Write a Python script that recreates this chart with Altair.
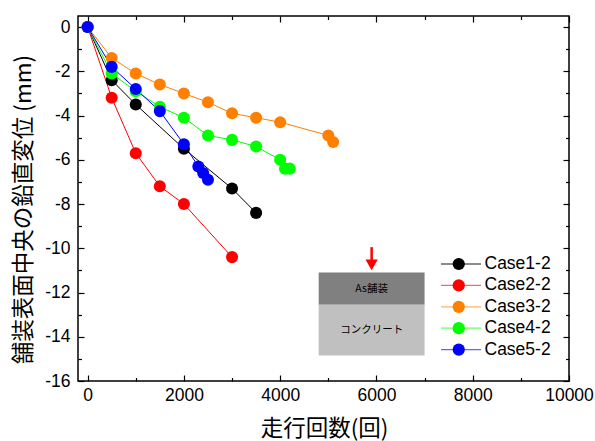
import altair as alt
import pandas as pd

# ---- data ----
cases = ["Case1-2", "Case2-2", "Case3-2", "Case4-2", "Case5-2"]
colors = ["#000000", "#FF0000", "#FF8000", "#00FF00", "#0000FF"]

case1_x = [0, 500, 1000, 2000, 3000, 3500]
case1_y = [0, -2.4, -3.5, -5.5, -7.3, -8.4]
case2_x = [0, 500, 1000, 1500, 2000, 3000]
case2_y = [0, -3.2, -5.7, -7.2, -8.0, -10.4]
case3_x = [0, 500, 1000, 1500, 2000, 2500, 3000, 3500, 4000, 5000, 5100]
case3_y = [0, -1.4, -2.1, -2.6, -3.0, -3.4, -3.9, -4.1, -4.3, -4.9, -5.2]
case4_x = [0, 500, 1000, 1500, 2000, 2500, 3000, 3500, 4000, 4100, 4200]
case4_y = [0, -2.1, -2.9, -3.6, -4.1, -4.9, -5.1, -5.4, -6.0, -6.4, -6.4]
case5_x = [0, 500, 1000, 1500, 2000, 2300, 2400, 2500]
case5_y = [0, -1.8, -2.8, -3.8, -5.3, -6.3, -6.6, -6.9]

x_major = [0, 2000, 4000, 6000, 8000, 10000]
x_minor = [1000, 3000, 5000, 7000, 9000]
y_major = [0, -2, -4, -6, -8, -10, -12, -14, -16]
y_minor = [-1, -3, -5, -7, -9, -11, -13, -15]

# inset sketch (pavement layers) in data units
layer_names = ["As舗装", "コンクリート"]
layer_top = [-11.1, -12.55]
layer_bottom = [-12.55, -14.85]
layer_colors = ["#808080", "#C0C0C0"]
inset_x0, inset_x1 = 4800, 7000
arrow_x = 5900
arrow_top, arrow_head = -9.95, -10.75

# ---- tables ----
codes = ["line%d" % (j + 1) for j in range(len(cases))]  # keys for the line-segment legend
rows = []
for k, (name, xs_, ys_) in enumerate(zip(cases, [case1_x, case2_x, case3_x, case4_x, case5_x],
                                          [case1_y, case2_y, case3_y, case4_y, case5_y])):
    for i, (a, b) in enumerate(zip(xs_, ys_)):
        rows.append({"case": name, "code": codes[k], "n": a, "d": b, "i": i, "k": k})
df = pd.DataFrame(rows)

inset = pd.DataFrame({
    "name": layer_names,
    "x0": [inset_x0] * 2, "x1": [inset_x1] * 2,
    "top": layer_top, "bottom": layer_bottom,
    "mid": [(a + b) / 2 for a, b in zip(layer_top, layer_bottom)],
    "xm": [(inset_x0 + inset_x1) / 2] * 2,
    "col": layer_colors,
})
arrow = pd.DataFrame({"x": [arrow_x], "y0": [arrow_top], "y1": [arrow_head]})

W, H = 491, 365
LAT = "Liberation Sans"
CJK = "Noto Sans CJK JP"

xs = alt.Scale(domain=[-200, 10000], nice=False, zero=False)
ys = alt.Scale(domain=[-16, 0.5], nice=False, zero=False)
cscale = alt.Scale(domain=cases, range=colors)
lscale = alt.Scale(domain=codes, range=colors)

# legend of the line segments (no labels) ...
legend_lines = alt.Legend(
    title=None, orient="none", legendX=362, legendY=238, zindex=1,
    symbolType="stroke", symbolSize=1600, symbolStrokeWidth=1.3, symbolOpacity=0.6,
    clipHeight=20, rowPadding=1.4, labelExpr="''",
    labelFont=LAT, labelFontSize=17.5, labelOffset=4,
)
# ... overlaid with the legend of the markers (visible labels)
legend_pts = alt.Legend(
    title=None, orient="none", legendX=372, legendY=238, zindex=2,
    symbolType="circle", symbolSize=150, symbolStrokeWidth=0, symbolOpacity=1,
    clipHeight=20, rowPadding=1.4,
    labelFont=LAT, labelFontSize=17.5, labelColor="black", labelOffset=17,
)

axis_x = alt.Axis(values=x_major, format="d", labelFont=LAT, labelFontSize=17.5,
                  labelColor="black", ticks=False, domain=False, grid=False, labelPadding=5,
                  title="走行回数(回)", titleFont=CJK, titleFontSize=22.5, titleFontWeight="normal",
                  titleColor="black", titleX=246, titleY=47, titleBaseline="middle",
                  titleAlign="center", labelFlush=False)
axis_y = alt.Axis(values=y_major, labelExpr="toString(datum.value)", labelFont=LAT,
                  labelFontSize=17.5, labelColor="black", ticks=False, domain=False, grid=False,
                  labelPadding=8, title="舗装表面中央の鉛直変位 (mm)", titleFont=CJK,
                  titleFontSize=22.5, titleFontWeight="normal", titleColor="black",
                  titleX=-55, titleY=193, titleAngle=-90, titleBaseline="middle",
                  titleAlign="center")

lines = alt.Chart(df).mark_line(strokeWidth=1).encode(
    x=alt.X("n:Q", scale=xs, axis=axis_x),
    y=alt.Y("d:Q", scale=ys, axis=axis_y),
    stroke=alt.Stroke("code:N", scale=lscale, legend=legend_lines),
    order=alt.Order("i:Q"),
)

points = alt.Chart(df).mark_circle(size=145, opacity=1).encode(
    x=alt.X("n:Q", scale=xs, axis=None),
    y=alt.Y("d:Q", scale=ys, axis=None),
    color=alt.Color("case:N", scale=cscale, legend=legend_pts),
    order=alt.Order("k:Q"),
)

rects = alt.Chart(inset).mark_rect().encode(
    x=alt.X("x0:Q", scale=xs, axis=None), x2="x1:Q",
    y=alt.Y("top:Q", scale=ys, axis=None), y2="bottom:Q",
    color=alt.Color("col:N", scale=None, legend=None),
)
texts = alt.Chart(inset).mark_text(font=CJK, fontSize=10.5, color="black").encode(
    x=alt.X("xm:Q", scale=xs, axis=None),
    y=alt.Y("mid:Q", scale=ys, axis=None),
    text="name:N",
)
arrow_line = alt.Chart(arrow).mark_rule(color="#FF0000", strokeWidth=2.5).encode(
    x=alt.X("x:Q", scale=xs, axis=None),
    y=alt.Y("y0:Q", scale=ys, axis=None), y2="y1:Q",
)
arrow_head_m = alt.Chart(arrow).mark_point(shape="triangle-down", filled=True, color="#FF0000",
                                           size=150, opacity=1).encode(
    x=alt.X("x:Q", scale=xs, axis=None),
    y=alt.Y("y1:Q", scale=ys, axis=None),
)


def tick_layer(ch, orient, offset, values, size):
    ax = alt.Axis(orient=orient, offset=offset, values=values, tickSize=size, labels=False,
                  domain=False, grid=False, title=None, tickColor="black", tickWidth=1.2)
    if ch == "x":
        enc = dict(x=alt.X("n:Q", scale=xs, axis=ax), y=alt.Y("d:Q", scale=ys, axis=None))
    else:
        enc = dict(x=alt.X("n:Q", scale=xs, axis=None), y=alt.Y("d:Q", scale=ys, axis=ax))
    return alt.Chart(df).mark_point(opacity=0).encode(**enc)


ticks = [
    tick_layer("x", "top", -H, x_major, 6),
    tick_layer("x", "top", -H, x_minor, 3.5),
    tick_layer("x", "bottom", -H, x_major, 6),
    tick_layer("x", "bottom", -H, x_minor, 3.5),
    tick_layer("y", "right", -W, y_major, 6),
    tick_layer("y", "right", -W, y_minor, 3.5),
    tick_layer("y", "left", -W, y_major, 6),
    tick_layer("y", "left", -W, y_minor, 3.5),
]

chart = alt.layer(lines, points, rects, texts, arrow_line, arrow_head_m, *ticks).resolve_axis(
    x="independent", y="independent"
).properties(
    width=W, height=H, autosize="none",
    padding={"left": 78, "top": 16, "right": 26, "bottom": 60},
    background="white",
).configure_view(stroke="black", strokeWidth=1.5)

chart.save("out.html", embed_options={"renderer": "svg", "actions": False})
